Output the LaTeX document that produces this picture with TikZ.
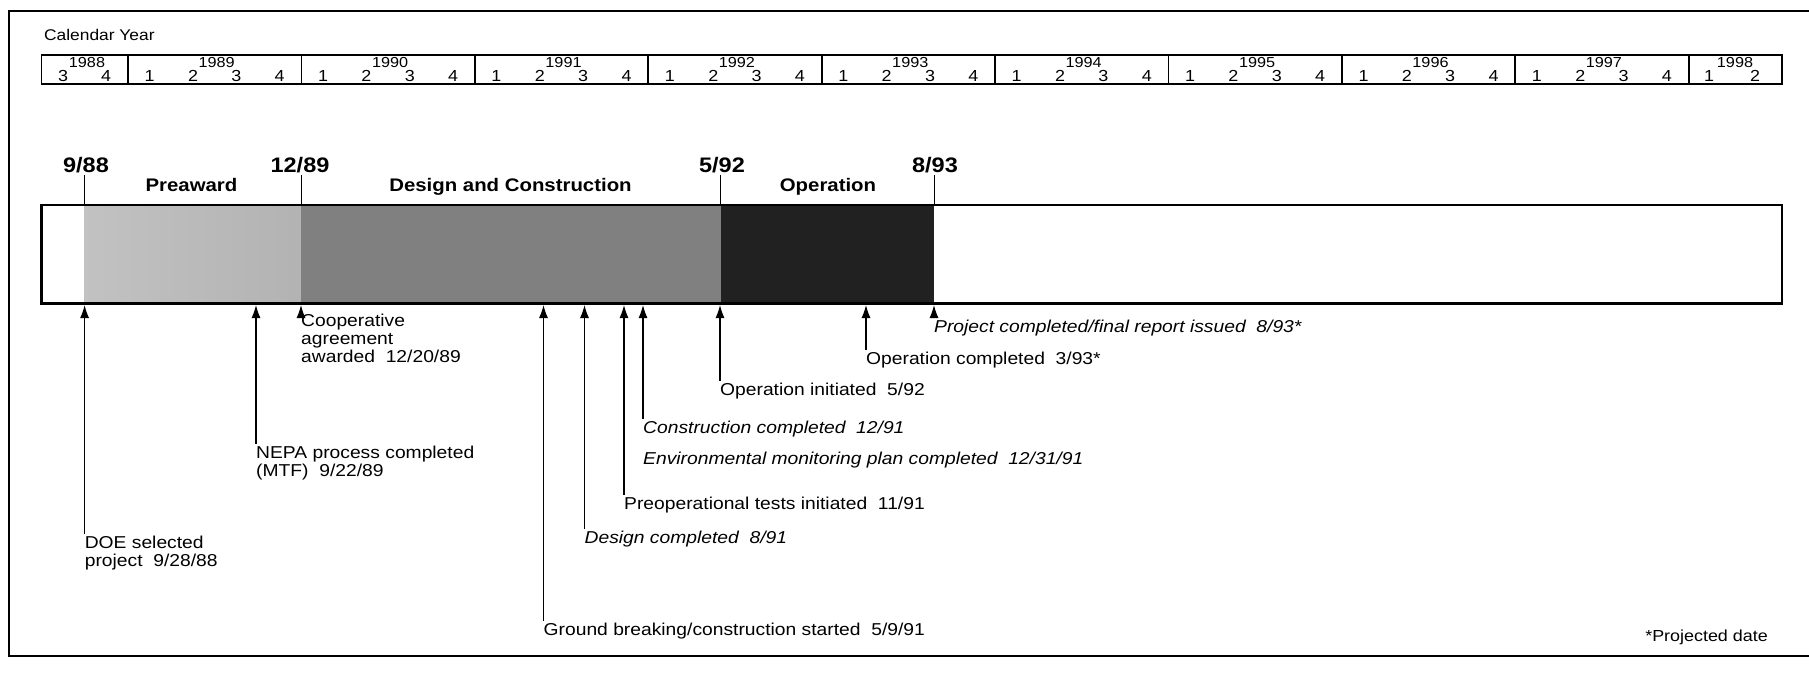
\documentclass[tikz,border=0pt]{standalone}
\usepackage{fontspec}
\setmainfont{Liberation Sans}[FakeStretch=1.12]
\usetikzlibrary{arrows.meta}
\begin{document}
\begin{tikzpicture}[x=1pt,y=-1pt,
  frame/.style={line width=2.2pt},
  tbl/.style={line width=1.8pt},
  barbox/.style={line width=2.8pt},
  tickline/.style={line width=1pt},
  arr/.style={line width=1.2pt,-{Latex[length=13pt,width=9pt]}},
  lbl/.style={anchor=north west,inner xsep=0pt,inner ysep=2pt,align=left,font=\fontsize{17.2}{17.8}\selectfont},
  ilbl/.style={lbl,font=\fontsize{17.2}{17.8}\selectfont\itshape},
  yrlbl/.style={anchor=base,inner sep=0pt,font=\fontsize{14.5}{16}\selectfont},
  qlbl/.style={anchor=base,inner sep=0pt,font=\fontsize{16}{17}\selectfont},
  datelbl/.style={anchor=base,inner sep=0pt,font=\fontsize{21}{24}\selectfont\bfseries},
  phaselbl/.style={anchor=base,inner sep=0pt,font=\fontsize{18.2}{21}\selectfont\bfseries}
]
\useasboundingbox (0,0) rectangle (1809,675);
\fill[white] (0,0) rectangle (1809,675);
% outer frame
\draw[frame] (1809,11) -- (9,11) -- (9,656) -- (1809,656);
% calendar
\node[anchor=base west,inner sep=0pt,font=\fontsize{15.5}{17}\selectfont] (cal) at (44,40.5) {Calendar Year};
\draw[tbl] (41.5,55) rectangle (1782,84);
\foreach \k in {0,...,9} { \draw[tbl] ({128+173.4*\k},55) -- ({128+173.4*\k},84); }
\node[yrlbl] (y1988) at (87,67.8) {1988};
\node[qlbl] (q19883) at (63,81) {3};
\node[qlbl] (q19884) at (106,81) {4};
\foreach \yr [count=\i from 0] in {1989,1990,1991,1992,1993,1994,1995,1996,1997} {
  \node[yrlbl] (y\yr) at ({128+173.4*(\i+0.5)+2},67.8) {\yr};
  \foreach \q in {1,2,3,4} {
    \node[qlbl] (q\yr\q) at ({128+173.4*(\i+(\q-0.5)/4)},81) {\q};
  }
}
\node[yrlbl] (y1998) at (1735,67.8) {1998};
\node[qlbl] (q19981) at (1709,81) {1};
\node[qlbl] (q19982) at (1755,81) {2};
% bar
\shade[left color=black!24,middle color=black!15,right color=black!30] (84.6,205) rectangle (301.4,303.5);
\fill[black!50] (301.4,205) rectangle (720.5,303.5);
\fill[black!87] (720.5,205) rectangle (934,303.5);
\draw[barbox] (41.5,205) rectangle (1782,303.5);
% date labels and ticks
\node[datelbl] (d1) at (86,172.5) {9/88};
\node[datelbl] (d2) at (300,172.5) {12/89};
\node[datelbl] (d3) at (722,172.5) {5/92};
\node[datelbl] (d4) at (935,172.5) {8/93};
\draw[tickline] (d1.south -| 84.6,0) ++(0,2) -- (84.6,205);
\draw[tickline] (d2.south -| 301.4,0) ++(0,2) -- (301.4,205);
\draw[tickline] (d3.south -| 720.5,0) ++(0,2) -- (720.5,205);
\draw[tickline] (d4.south -| 934,0) ++(0,2) -- (934,205);
\node[phaselbl] (p1) at (191.5,191) {Preaward};
\node[phaselbl] (p2) at (510.5,191) {Design and Construction};
\node[phaselbl] (p3) at (828,191) {Operation};
% milestone anchors on bar bottom
\coordinate (tDOE) at (84.6,305);
\coordinate (tNEPA) at (256,305);
\coordinate (tCOOP) at (301,305);
\coordinate (tGB) at (543.5,305);
\coordinate (tDES) at (584.5,305);
\coordinate (tPRE) at (624,305);
\coordinate (tCON) at (643,305);
\coordinate (tOPI) at (720,305);
\coordinate (tOPC) at (866,305);
\coordinate (tPRJ) at (934,305);
% labels
\node[lbl] (lDOE) at (84.6,533.6) {DOE selected\\project\ \ 9/28/88};
\node[lbl] (lNEPA) at (256,443.6) {NEPA process completed\\(MTF)\ \ 9/22/89};
\node[lbl] (lCOOP) at (301,312) {Cooperative\\agreement\\awarded\ \ 12/20/89};
\node[lbl] (lGB) at (543.5,620.6) {Ground breaking/construction started\ \ 5/9/91};
\node[ilbl] (lDES) at (584.5,528.6) {Design completed\ \ 8/91};
\node[lbl] (lPRE) at (624,494.6) {Preoperational tests initiated\ \ 11/91};
\node[ilbl] (lCON) at (643,418.6) {Construction completed\ \ 12/91};
\node[ilbl] (lENV) at (643,449.6) {Environmental monitoring plan completed\ \ 12/31/91};
\node[lbl] (lOPI) at (720,380.6) {Operation initiated\ \ 5/92};
\node[lbl] (lOPC) at (866,349.6) {Operation completed\ \ 3/93*};
\node[ilbl] (lPRJ) at (934,317.6) {Project completed/final report issued\ \ 8/93*};
% connectors
\draw[arr] (lDOE.north west) -- (tDOE);
\draw[arr] (lNEPA.north west) -- (tNEPA);
\draw[arr] (lCOOP.north west) -- (tCOOP);
\draw[arr] (lGB.north west) -- (tGB);
\draw[arr] (lDES.north west) -- (tDES);
\draw[arr] (lPRE.north west) -- (tPRE);
\draw[arr] (lCON.north west) -- (tCON);
\draw[arr] (lOPI.north west) -- (tOPI);
\draw[arr] (lOPC.north west) -- (tOPC);
\draw[arr] (lPRJ.north west) -- (tPRJ);
% footnote
\node[anchor=base east,inner sep=0pt,font=\fontsize{16}{18}\selectfont] (proj) at (1768,641) {*Projected date};
\end{tikzpicture}
\end{document}
